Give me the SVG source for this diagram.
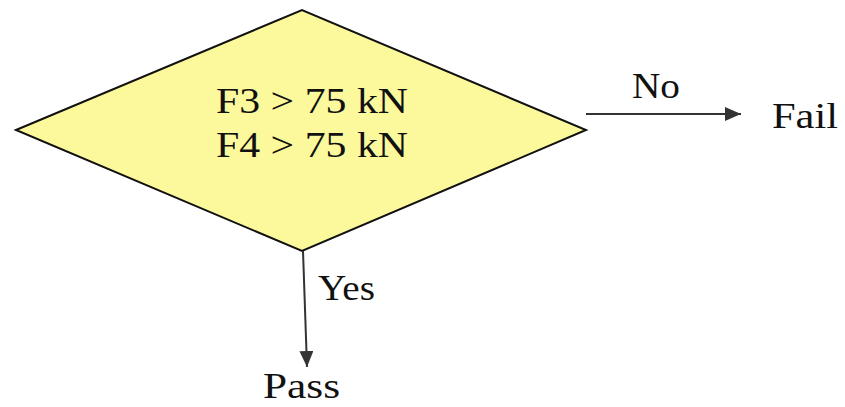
<svg xmlns="http://www.w3.org/2000/svg" width="845" height="407" viewBox="0 0 845 407">
<style>
text{font-family:'Liberation Serif','Times New Roman','DejaVu Serif',serif;font-size:35px;fill:#111}
.c{stroke:#333;stroke-width:2;fill:none}
</style>
<defs>
<marker id="ah" markerWidth="16" markerHeight="14" refX="16" refY="7" orient="auto" markerUnits="userSpaceOnUse" viewBox="0 0 16 14">
<path d="M0,0 L16,7 L0,14 z" fill="#333"/>
</marker>
</defs>
<rect width="845" height="407" fill="#fff"/>
<g id="decision">
<polygon points="16,130 302,10 586,130 302,251" fill="#fcf99c" stroke="#111" stroke-width="2"/>
<text x="216" y="113" textLength="192" lengthAdjust="spacingAndGlyphs">F3 &gt; 75 kN</text>
<text x="216" y="157" textLength="192" lengthAdjust="spacingAndGlyphs">F4 &gt; 75 kN</text>
</g>
<g id="fail"><text x="772" y="128" textLength="66" lengthAdjust="spacingAndGlyphs">Fail</text></g>
<g id="pass"><text x="263" y="398" textLength="77" lengthAdjust="spacingAndGlyphs">Pass</text></g>
<g id="connectors">
<line class="c" x1="586" y1="114" x2="741" y2="114" marker-end="url(#ah)"/>
<text x="632" y="98" textLength="48" lengthAdjust="spacingAndGlyphs">No</text>
<line class="c" x1="303" y1="251" x2="307" y2="367" marker-end="url(#ah)"/>
<text x="318" y="300" textLength="57" lengthAdjust="spacingAndGlyphs">Yes</text>
</g>
</svg>
